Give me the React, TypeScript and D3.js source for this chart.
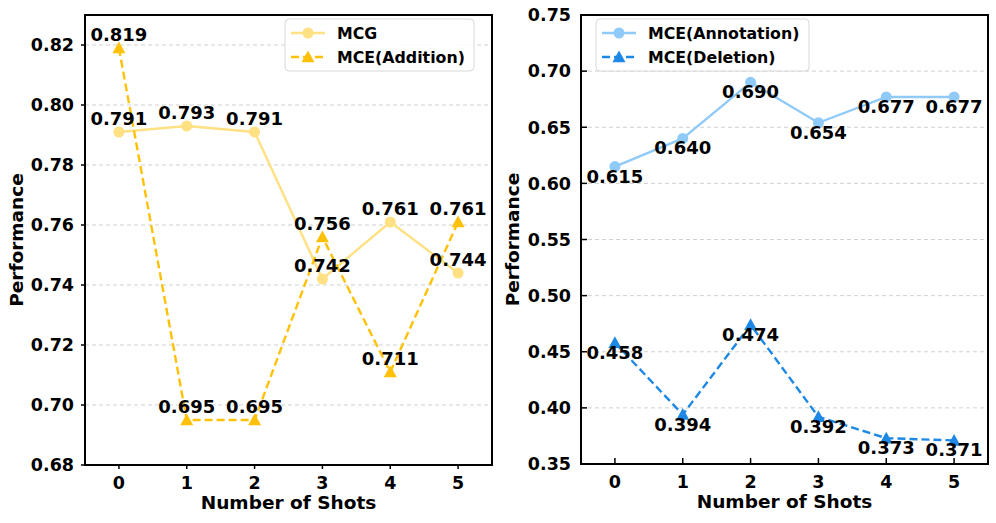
import * as d3 from "d3";
import { useEffect } from "react";

const shots = [0, 1, 2, 3, 4, 5];

const mcg = [0.791, 0.793, 0.791, 0.742, 0.761, 0.744];
const mceAddition = [0.819, 0.695, 0.695, 0.756, 0.711, 0.761];
const mceAnnotation = [0.615, 0.64, 0.69, 0.654, 0.677, 0.677];
const mceDeletion = [0.458, 0.394, 0.474, 0.392, 0.373, 0.371];

const leftTicks = [0.68, 0.7, 0.72, 0.74, 0.76, 0.78, 0.8, 0.82];
const rightTicks = [0.35, 0.4, 0.45, 0.5, 0.55, 0.6, 0.65, 0.7, 0.75];

const FONT = "'DejaVu Sans', sans-serif";

type Series = {
  name: string;
  values: number[];
  color: string;
  dashed: boolean;
  marker: "circle" | "triangle";
};

type PanelProps = {
  left: number;
  right: number;
  top: number;
  bottom: number;
  yDomain: [number, number];
  ticks: number[];
  series: Series[];
  inward: boolean;
  labelBelow: boolean;
  legendWidth: number;
};

function Marker({ kind, x, y, color }: { kind: string; x: number; y: number; color: string }) {
  if (kind === "circle") return <circle cx={x} cy={y} r={5.5} fill={color} />;
  const s = 6.5;
  return <path d={`M${x},${y - s}L${x + s},${y + s * 0.8}L${x - s},${y + s * 0.8}Z`} fill={color} />;
}

function Panel(p: PanelProps) {
  const x = d3.scaleLinear().domain([-0.5, 5.5]).range([p.left, p.right]);
  const y = d3.scaleLinear().domain(p.yDomain).range([p.bottom, p.top]);
  const line = d3
    .line<number>()
    .x((_, i) => x(shots[i]))
    .y((d) => y(d));
  const f = d3.format(".2f");
  const tl = p.inward ? 6 : -4;
  const midY = (p.top + p.bottom) / 2;
  const lx = p.left + (p.inward ? 15 : 200);
  const ly = p.top + 4;

  return (
    <g>
      {p.ticks.slice(1, p.inward ? -1 : undefined).map((t) => (
        <line key={t} x1={p.left} x2={p.right} y1={y(t)} y2={y(t)} stroke="#cccccc" strokeWidth={0.9} strokeDasharray="4,3" />
      ))}
      {p.series.map((s) => (
        <g key={s.name}>
          <path d={line(s.values) ?? ""} fill="none" stroke={s.color} strokeWidth={2.4} strokeDasharray={s.dashed ? "8,4" : undefined} />
          {s.values.map((v, i) => (
            <Marker key={i} kind={s.marker} x={x(shots[i])} y={y(v)} color={s.color} />
          ))}
        </g>
      ))}
      {p.series.map((s) =>
        s.values.map((v, i) => (
          <text
            key={s.name + i}
            x={x(shots[i])}
            y={y(v) + (p.labelBelow ? 16 : -7)}
            textAnchor="middle"
            fontFamily={FONT}
            fontWeight="bold"
            fontSize={18}
          >
            {d3.format(".3f")(v)}
          </text>
        ))
      )}
      {/* y axis */}
      {p.ticks.map((t) => (
        <g key={t}>
          <line x1={p.left} x2={p.left + tl} y1={y(t)} y2={y(t)} stroke="#000" strokeWidth={1.5} />
          <text x={p.left - (p.inward ? 10 : 11)} y={y(t)} dy="0.36em" textAnchor="end" fontFamily={FONT} fontWeight="bold" fontSize={17.5}>
            {f(t)}
          </text>
        </g>
      ))}
      {/* x axis */}
      {shots.map((s) => (
        <g key={s}>
          <line x1={x(s)} x2={x(s)} y1={p.bottom} y2={p.bottom - tl} stroke="#000" strokeWidth={1.5} />
          <text x={x(s)} y={p.bottom + 24} textAnchor="middle" fontFamily={FONT} fontWeight="bold" fontSize={17.5}>
            {s}
          </text>
        </g>
      ))}
      <rect x={p.left} y={p.top} width={p.right - p.left} height={p.bottom - p.top} fill="none" stroke="#000" strokeWidth={2} />
      <text x={(p.left + p.right) / 2} y={p.bottom + 44} textAnchor="middle" fontFamily={FONT} fontWeight="bold" fontSize={18.5}>
        Number of Shots
      </text>
      <text
        transform={`translate(${p.left - 62},${midY}) rotate(-90)`}
        textAnchor="middle"
        fontFamily={FONT}
        fontWeight="bold"
        fontSize={18.5}
      >
        Performance
      </text>
      {/* legend */}
      <rect x={lx} y={ly} width={p.legendWidth} height={52} rx={4} fill="#fff" fillOpacity={0.85} stroke="#d8d8d8" strokeWidth={1} />
      {p.series.map((s, i) => {
        const cy = ly + 14 + i * 24;
        return (
          <g key={s.name}>
            <line x1={lx + 6} x2={lx + 40} y1={cy} y2={cy} stroke={s.color} strokeWidth={2.4} strokeDasharray={s.dashed ? "8,4" : undefined} />
            <Marker kind={s.marker} x={lx + 23} y={cy} color={s.color} />
            <text x={lx + 52} y={cy} dy="0.36em" fontFamily={FONT} fontWeight="bold" fontSize={15.8}>
              {s.name}
            </text>
          </g>
        );
      })}
    </g>
  );
}

export default function App() {
  useEffect(() => {
    document.body.style.margin = "0";
  }, []);
  return (
    <svg width={996} height={523} style={{ display: "block", background: "#fff" }}>
      <Panel
        left={85}
        right={492}
        top={15}
        bottom={465}
        yDomain={[0.68, 0.83]}
        ticks={leftTicks}
        inward={false}
        labelBelow={false}
        legendWidth={189}
        series={[
          { name: "MCG", values: mcg, color: "#FFE082", dashed: false, marker: "circle" },
          { name: "MCE(Addition)", values: mceAddition, color: "#FFC107", dashed: true, marker: "triangle" },
        ]}
      />
      <Panel
        left={581}
        right={988}
        top={15}
        bottom={464}
        yDomain={[0.35, 0.75]}
        ticks={rightTicks}
        inward={true}
        labelBelow={true}
        legendWidth={213}
        series={[
          { name: "MCE(Annotation)", values: mceAnnotation, color: "#90CAF9", dashed: false, marker: "circle" },
          { name: "MCE(Deletion)", values: mceDeletion, color: "#1E88E5", dashed: true, marker: "triangle" },
        ]}
      />
    </svg>
  );
}
